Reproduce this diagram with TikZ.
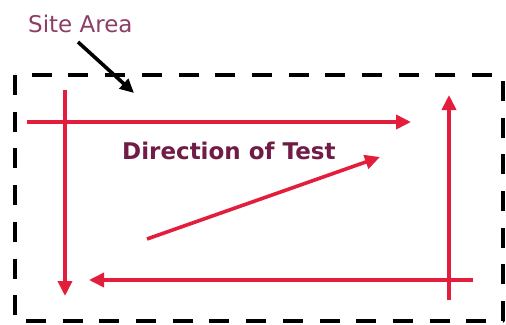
\documentclass[tikz,border=0pt]{standalone}
\usepackage{fontspec}
\setmainfont{DejaVu Sans}
\usetikzlibrary{arrows.meta}
\definecolor{testred}{RGB}{226,30,60}
\definecolor{plum}{RGB}{112,28,70}
\definecolor{siteplum}{RGB}{140,62,102}
\begin{document}
\begin{tikzpicture}[x=1pt, y=-1pt, line join=round,
	path/.style={testred, line width=3.6pt, -{Triangle[length=15pt,width=14pt]}},
	label/.style={inner sep=0pt, anchor=base west, font=\fontsize{23}{26}\selectfont}]
	\useasboundingbox (0,0) rectangle (506,324);
	% site boundary
	\draw[line width=3.8pt, dash pattern=on 20pt off 16.7pt] (15,75) rectangle (503,321);
	% test runs
	\coordinate (l1) at (65,90);   \coordinate (l2) at (65,296);
	\coordinate (t1) at (27,122);  \coordinate (t2) at (411,122);
	\coordinate (r1) at (449,300); \coordinate (r2) at (449,95);
	\coordinate (b1) at (473,280); \coordinate (b2) at (89,280);
	\coordinate (d1) at (147,239); \coordinate (d2) at (380,157);
	\draw[path] (l1) -- (l2);
	\draw[path] (t1) -- (t2);
	\draw[path] (r1) -- (r2);
	\draw[path] (b1) -- (b2);
	\draw[path] (d1) -- (d2);
	\node[label, siteplum] (site) at (28,32) {Site Area};
	\node[label, plum, font=\fontsize{23}{26}\selectfont\bfseries] (dir) at (122,159) {Direction of Test};
	\coordinate (s1) at (78,42); \coordinate (s2) at (134,93);
	\draw[line width=3.6pt, -{Triangle[length=14pt,width=13pt]}] (s1) -- (s2);
\end{tikzpicture}
\end{document}
